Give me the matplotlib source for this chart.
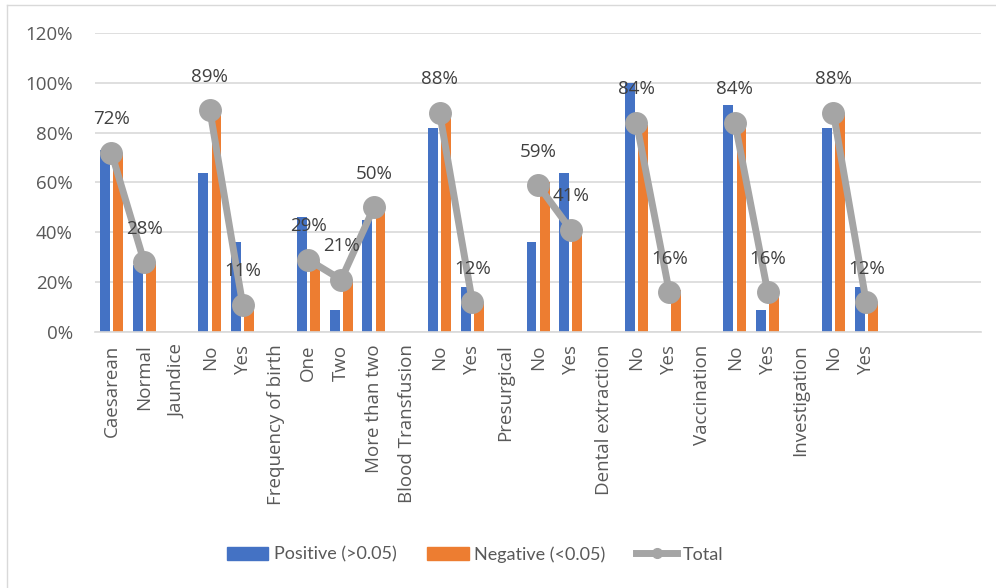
import numpy as np
import matplotlib.pyplot as plt
from matplotlib.lines import Line2D
from matplotlib.patches import Patch

plt.rcParams['font.family'] = ['Open Sans', 'DejaVu Sans']

categories = ['Caesarean', 'Normal', 'Jaundice', 'No', 'Yes', 'Frequency of birth',
              'One', 'Two', 'More than two', 'Blood Transfusion', 'No', 'Yes',
              'Presurgical', 'No', 'Yes', 'Dental extraction', 'No', 'Yes',
              'Vaccination', 'No', 'Yes', 'Investigation', 'No', 'Yes', '', '', '']
nan = np.nan
positive = [73, 27, nan, 64, 36, nan, 46, 9, 45, nan, 82, 18, nan, 36, 64, nan,
            100, 0, nan, 91, 9, nan, 82, 18, nan, nan, nan]
negative = [72, 28, nan, 90, 10, nan, 28, 21, 51, nan, 88, 12, nan, 60, 40, nan,
            83, 17, nan, 84, 16, nan, 88, 12, nan, nan, nan]
total = [72, 28, nan, 89, 11, nan, 29, 21, 50, nan, 88, 12, nan, 59, 41, nan,
         84, 16, nan, 84, 16, nan, 88, 12, nan, nan, nan]

blue = '#4472C4'
orange = '#ED7D31'
grey = '#A5A5A5'
txt = '#595959'

fig = plt.figure(figsize=(9.96, 5.88), dpi=100)
ax = fig.add_axes([0.0954, 0.4354, 0.8896, 0.5085])

x = np.arange(len(categories))
pos = np.array(positive, dtype=float) / 100
neg = np.array(negative, dtype=float) / 100
tot = np.array(total, dtype=float) / 100

ax.bar(x - 0.2, pos, 0.3, color=blue, zorder=2)
ax.bar(x + 0.2, neg, 0.3, color=orange, zorder=2)
ax.plot(x, tot, color=grey, lw=5, marker='o', ms=15.5, zorder=3,
        solid_capstyle='round')

for xi, v in zip(x, tot):
    if not np.isnan(v):
        ax.annotate(f'{v:.0%}', (xi, v), xytext=(0, 24), textcoords='offset points',
                    ha='center', va='center', fontsize=13.5, color='#404040', zorder=4)

ax.set_xlim(-0.5, len(categories) - 0.5)
ax.set_ylim(0, 1.2)
ax.set_yticks(np.arange(0, 1.21, 0.2))
ax.set_yticklabels([f'{int(round(t * 100))}%' for t in np.arange(0, 1.21, 0.2)])
ax.set_xticks(x)
ax.set_xticklabels(categories, rotation=90)
ax.tick_params(axis='y', length=0, pad=16, labelsize=13.5, labelcolor=txt)
ax.tick_params(axis='x', length=0, pad=9, labelsize=13.5, labelcolor=txt)
ax.grid(axis='y', color='#D9D9D9', lw=1.2, zorder=0)
ax.set_axisbelow(True)
for s in ['top', 'right', 'left']:
    ax.spines[s].set_visible(False)
ax.spines['bottom'].set_color('#D9D9D9')
ax.spines['bottom'].set_linewidth(1.2)

handles = [Patch(color=blue, label='Positive (>0.05)'),
           Patch(color=orange, label='Negative (<0.05)'),
           Line2D([], [], color=grey, lw=5, marker='o', ms=7, label='Total')]
fig.legend(handles=handles, loc='center', bbox_to_anchor=(0.477, 0.057), ncol=3,
           frameon=False, fontsize=13, labelcolor=txt, handlelength=2.3,
           handleheight=0.75, handletextpad=0.3, columnspacing=1.7,
           prop={'family': ['Lato', 'DejaVu Sans'], 'size': 13})

# chart frame (left and top edges visible)
fig.add_artist(Line2D([7 / 996, 7 / 996], [0, 1 - 5 / 588], color='#D9D9D9', lw=1))
fig.add_artist(Line2D([7 / 996, 1], [1 - 5 / 588, 1 - 5 / 588], color='#D9D9D9', lw=1))

fig.savefig('out.png', dpi=100)
